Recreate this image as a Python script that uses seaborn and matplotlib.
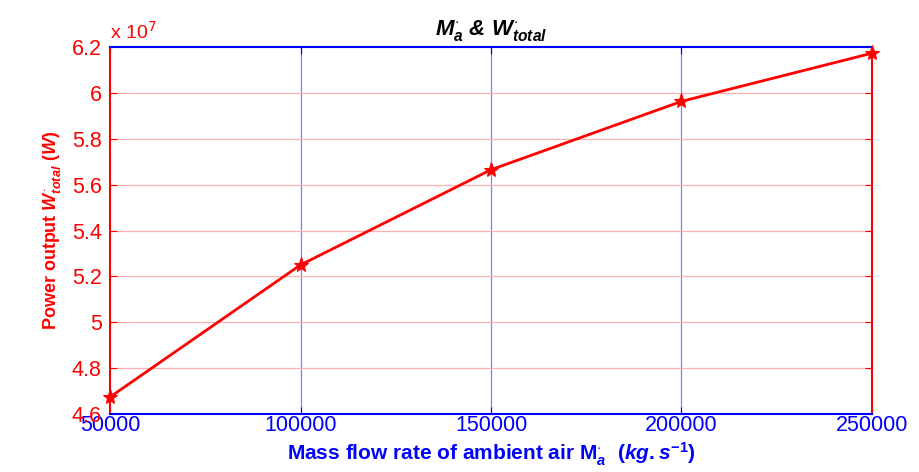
import matplotlib
matplotlib.use("Agg")
import matplotlib.pyplot as plt
import seaborn as sns
import pandas as pd

# data
mass_flow = [50000, 100000, 150000, 200000, 250000]
power_output = [4.674e7, 5.25e7, 5.665e7, 5.963e7, 6.173e7]
x_ticks = [50000, 100000, 150000, 200000, 250000]
y_ticks = [4.6e7, 4.8e7, 5.0e7, 5.2e7, 5.4e7, 5.6e7, 5.8e7, 6.0e7, 6.2e7]
y_tick_labels = ["4.6", "4.8", "5", "5.2", "5.4", "5.6", "5.8", "6", "6.2"]

sns.set_style("white")
plt.rcParams['font.family'] = ['Liberation Sans', 'DejaVu Sans']
plt.rcParams['mathtext.fontset'] = 'custom'
plt.rcParams['mathtext.rm'] = 'Liberation Sans:bold'
plt.rcParams['mathtext.it'] = 'Liberation Sans:bold:italic'
plt.rcParams['mathtext.bf'] = 'Liberation Sans:bold'

df = pd.DataFrame({"x": mass_flow, "y": power_output})

fig = plt.figure(figsize=(9.2, 4.72), dpi=100)
ax = fig.add_axes([0.1196, 0.1229, 0.8282, 0.7775])

RED = "#ff0000"
BLUE = "#0000ff"

sns.lineplot(data=df, x="x", y="y", ax=ax, color=RED, linewidth=2,
             marker="*", markersize=11, markeredgecolor=RED, markerfacecolor=RED,
             clip_on=False, zorder=5)

ax.set_xlim(50000, 250000)
ax.set_ylim(4.6e7, 6.2e7)
ax.set_xticks(x_ticks)
ax.set_xticklabels([str(v) for v in x_ticks])
ax.set_yticks(y_ticks)
ax.set_yticklabels(y_tick_labels)

# grid
for xv in x_ticks[1:-1]:
    ax.axvline(xv, color="#8080ff", linewidth=0.9, zorder=0)
for yv in y_ticks[1:-1]:
    ax.axhline(yv, color="#ffb0b0", linewidth=0.9, zorder=0)

for side in ["top", "bottom"]:
    ax.spines[side].set_color(BLUE)
    ax.spines[side].set_linewidth(1.5)
for side in ["left", "right"]:
    ax.spines[side].set_color(RED)
    ax.spines[side].set_linewidth(1.5)
    ax.spines[side].set_visible(True)
ax.spines["top"].set_visible(True)

ax.tick_params(axis="x", colors=BLUE, direction="in", labelsize=15.5, length=5,
               top=True, bottom=True, pad=1)
ax.tick_params(axis="y", colors=RED, direction="in", labelsize=15.5, length=5,
               left=True, right=True, pad=6)

ax.text(0.0, 1.012, r"x 10$^{7}$", transform=ax.transAxes, color=RED,
        fontsize=14, ha="left", va="bottom",
        math_fontfamily="dejavusans")

ax.set_title(r"$M^{\cdot}_{a}$ & $W^{\cdot}_{total}$", fontsize=16,
             fontweight="bold", style="italic", pad=9, color="black")
ax.set_xlabel(r"Mass flow rate of ambient air M$^{\cdot}_{a}$  $(kg.s^{-1})$",
              fontsize=15, fontweight="bold", color=BLUE, labelpad=3)
ax.set_ylabel(r"Power output $W^{\cdot}_{total}$ $(W)$",
              fontsize=13, fontweight="bold", color=RED, labelpad=6)

fig.savefig("out.png", dpi=100)
